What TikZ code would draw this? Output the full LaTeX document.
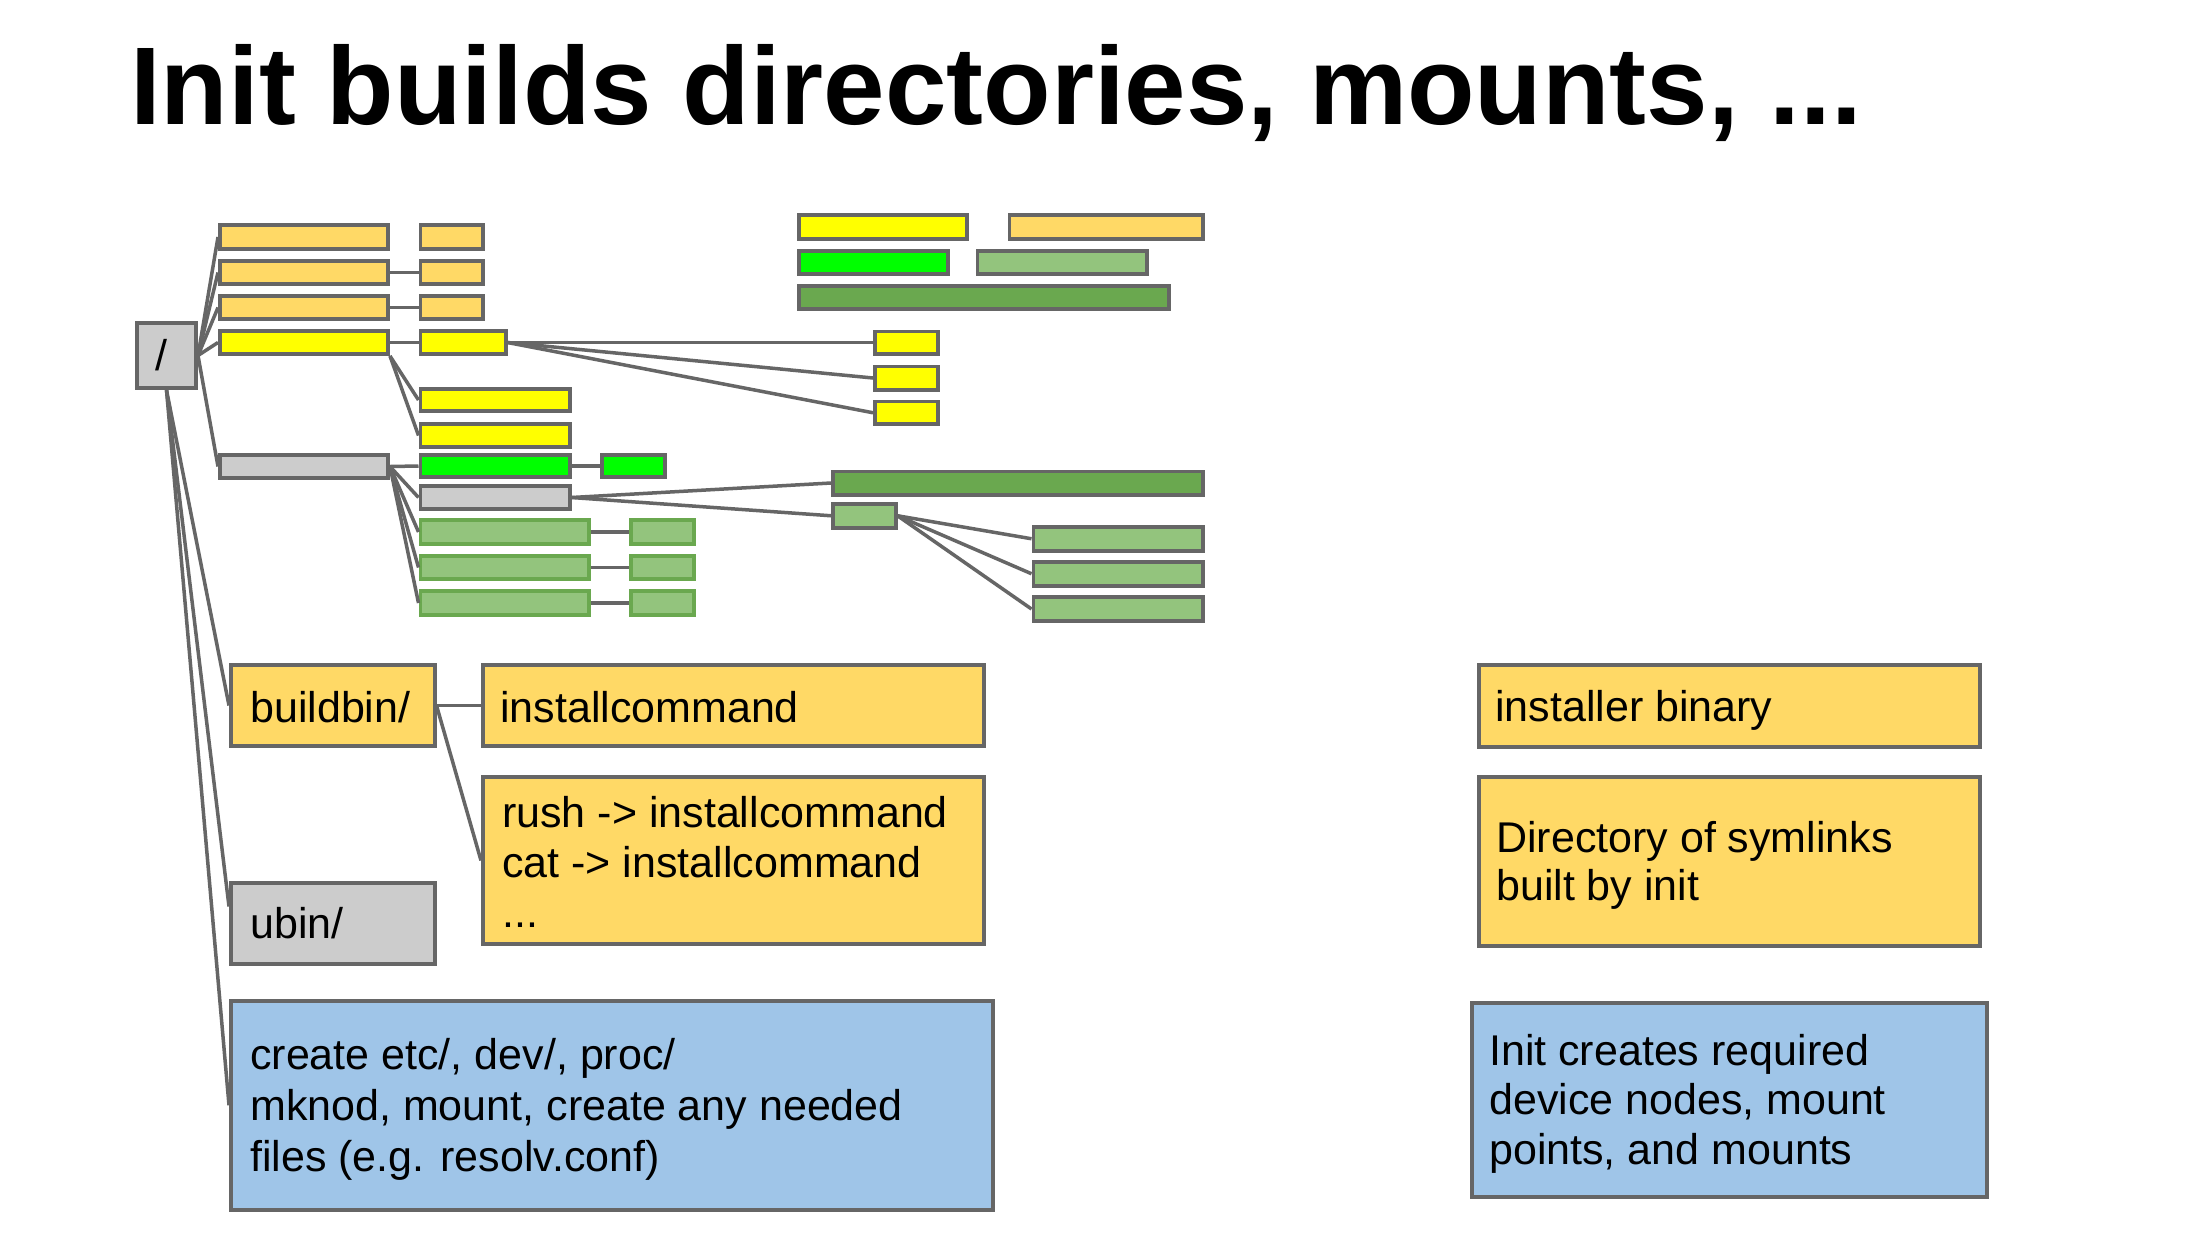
\documentclass[tikz,border=0pt]{standalone}
\usepackage{fontspec}
\setmainfont{Liberation Sans}
\usetikzlibrary{calc}
\definecolor{cOr}{HTML}{FFD966}
\definecolor{cYe}{HTML}{FFFF00}
\definecolor{cBg}{HTML}{00FF00}
\definecolor{cLg}{HTML}{93C47D}
\definecolor{cDg}{HTML}{6AA84F}
\definecolor{cGr}{HTML}{CCCCCC}
\definecolor{cBl}{HTML}{9FC5E8}
\definecolor{cBd}{HTML}{666666}
\newcommand{\mylines}[1]{\begin{tabular}[t]{@{}l@{}}#1\end{tabular}}
\newcommand{\bx}[6]{%
  \node[box,#6,minimum width={(#4-#2-3.8)*1bp},minimum height={(#5-#3-3.8)*1bp}]
    (#1) at ({(#2+#4)/2},{(#3+#5)/2}) {};}
\tikzset{
  box/.style={rectangle,draw=cBd,line width=3.8bp,inner sep=0pt},
  fOr/.style={fill=cOr}, fYe/.style={fill=cYe}, fBg/.style={fill=cBg},
  fLg/.style={fill=cLg}, fDg/.style={fill=cDg}, fGr/.style={fill=cGr},
  fBl/.style={fill=cBl}, gLg/.style={fill=cLg,draw=cDg},
  wire/.style={draw=cBd,line width=3.5bp},
  txt/.style={anchor=base west,inner sep=0pt,text=black},
}
\begin{document}
\begin{tikzpicture}[x=1bp,y=-1bp]
\useasboundingbox[fill=white] (0,0) rectangle (2208,1242);
% title
\node[txt,font=\fontsize{110.5bp}{132bp}\selectfont\bfseries] (title) at (130,124) {Init builds directories, mounts, ...};
% root
\bx{root}{135}{321}{198}{390}{fGr}
% left column
\bx{L1}{218}{223}{390}{251}{fOr}
\bx{L2}{218}{259}{390}{286}{fOr}
\bx{L3}{218}{294}{390}{321}{fOr}
\bx{L4}{218}{329}{390}{356}{fYe}
\bx{LG}{218}{453}{390}{480}{fGr}
% second column
\bx{S1}{418.5}{223}{484.5}{251}{fOr}
\bx{S2}{418.5}{259}{484.5}{286}{fOr}
\bx{S3}{418.5}{294}{484.5}{321}{fOr}
\bx{S4}{418.5}{329}{507.5}{356}{fYe}
\bx{Y1}{418.5}{387}{571.5}{413}{fYe}
\bx{Y2}{418.5}{422}{571.5}{449}{fYe}
\bx{G1}{418.5}{453}{571.5}{479}{fBg}
\bx{G1c}{600}{453}{666.5}{479}{fBg}
\bx{GS}{418.5}{484}{571.5}{511}{fGr}
\bx{LG1}{418.5}{518}{590.5}{546}{gLg}
\bx{LG2}{418.5}{554}{590.5}{581}{gLg}
\bx{LG3}{418.5}{589}{590.5}{617}{gLg}
\bx{LG1c}{629}{518}{695.5}{546}{gLg}
\bx{LG2c}{629}{554}{695.5}{581}{gLg}
\bx{LG3c}{629}{589}{695.5}{617}{gLg}
% top right cluster
\bx{TY}{797}{213}{969}{241}{fYe}
\bx{TO}{1007.5}{213}{1204.5}{241}{fOr}
\bx{TG}{797}{249}{950}{276}{fBg}
\bx{TLG}{975.5}{249}{1148.5}{276}{fLg}
\bx{TDG}{797}{284}{1170.5}{311}{fDg}
% yellow smalls
\bx{YS1}{873}{329.5}{939.5}{355.5}{fYe}
\bx{YS2}{873}{364.5}{939.5}{391.5}{fYe}
\bx{YS3}{873}{399.5}{939.5}{426}{fYe}
% green cluster
\bx{DG2}{831}{469.5}{1204.5}{496.5}{fDg}
\bx{SLG}{831}{502}{897.5}{529.5}{fLg}
\bx{R1}{1031.5}{525}{1204.5}{552.5}{fLg}
\bx{R2}{1031.5}{560}{1204.5}{587.5}{fLg}
\bx{R3}{1031.5}{595}{1204.5}{623}{fLg}
% bottom boxes
\bx{bb}{229}{663}{436.5}{748}{fOr}
\bx{ic}{481}{663}{986}{748}{fOr}
\bx{rush}{481}{775}{986}{946}{fOr}
\bx{ubin}{229}{881}{436.5}{966}{fGr}
\bx{blL}{229}{999}{995}{1211.5}{fBl}
\bx{ib}{1477}{663}{1982}{749}{fOr}
\bx{dir}{1477}{775}{1982}{948}{fOr}
\bx{blR}{1470}{1001}{1989}{1198.5}{fBl}
% texts
\node[txt,font=\fontsize{43bp}{50bp}\selectfont] (troot) at (155,370) {/};
\node[txt,font=\fontsize{43bp}{50bp}\selectfont] (tbb) at (250,722) {buildbin/};
\node[txt,font=\fontsize{43bp}{50bp}\selectfont] (tic) at (500,722) {installcommand};
\node[txt,font=\fontsize{43bp}{50bp}\selectfont] (trush) at (502,827) {\mylines{rush -> installcommand\\cat -> installcommand\\...}};
\node[txt,font=\fontsize{43bp}{50bp}\selectfont] (tubin) at (250,938) {ubin/};
\node[txt,font=\fontsize{43bp}{51bp}\selectfont] (tblL) at (250,1069) {\mylines{create etc/, dev/, proc/\\mknod, mount, create any needed\\files (e.g. resolv.conf)}};
\node[txt,font=\fontsize{43bp}{50bp}\selectfont] (tib) at (1495,721) {installer binary};
\node[txt,font=\fontsize{43bp}{48bp}\selectfont] (tdir) at (1496,852) {\mylines{Directory of symlinks\\built by init}};
\node[txt,font=\fontsize{43bp}{49.5bp}\selectfont] (tblR) at (1489,1065) {\mylines{Init creates required\\device nodes, mount\\points, and mounts}};
% connectors
\foreach \t in {L1,L2,L3,L4,LG} \draw[wire] (root.east) -- (\t.west);
\draw[wire] (root.south) -- (bb.west);
\draw[wire] (root.south) -- ($(ubin.north west)!0.3!(ubin.south west)$);
\draw[wire] (root.south) -- (blL.west);
\draw[wire] (L2.east) -- (S2.west);
\draw[wire] (L3.east) -- (S3.west);
\draw[wire] (L4.east) -- (S4.west);
\draw[wire] (L4.south east) -- (Y1.west);
\draw[wire] (L4.south east) -- (Y2.west);
\foreach \t in {YS1,YS2,YS3} \draw[wire] (S4.east) -- (\t.west);
\foreach \t in {G1,GS,LG1,LG2,LG3} \draw[wire] (LG.east) -- (\t.west);
\draw[wire] (G1.east) -- (G1c.west);
\draw[wire] (LG1.east) -- (LG1c.west);
\draw[wire] (LG2.east) -- (LG2c.west);
\draw[wire] (LG3.east) -- (LG3c.west);
\draw[wire] (GS.east) -- (DG2.west);
\draw[wire] (GS.east) -- (SLG.west);
\foreach \t in {R1,R2,R3} \draw[wire] (SLG.east) -- (\t.west);
\draw[wire] (bb.east) -- (ic.west);
\draw[wire] (bb.east) -- (rush.west);
\end{tikzpicture}
\end{document}
